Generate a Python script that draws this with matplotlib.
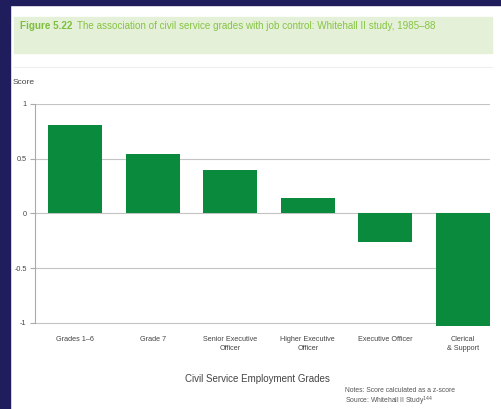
import matplotlib.pyplot as plt
from matplotlib.patches import Rectangle

plt.rcParams['font.family'] = ['Liberation Sans', 'DejaVu Sans']

grades = ["Grades 1–6", "Grade 7", "Senior Executive\nOfficer", "Higher Executive\nOfficer",
          "Executive Officer", "Clerical\n& Support"]
scores = [0.81, 0.54, 0.40, 0.14, -0.26, -1.03]
yticks = [1, 0.5, 0, -0.5, -1]
ytick_labels = ["1", "0.5", "0", "-0.5", "-1"]

W, H = 502, 409
fig = plt.figure(figsize=(W / 100, H / 100), dpi=100)
fig.patch.set_facecolor("white")

# navy frame at left and top
fig.add_artist(Rectangle((0, 0), 10 / W, 1, transform=fig.transFigure, color="#201d5c", zorder=-2))
fig.add_artist(Rectangle((0, 1 - 5 / H), 1, 5 / H, transform=fig.transFigure, color="#201d5c", zorder=-2))

# title box
fig.add_artist(Rectangle((14 / W, 1 - 53 / H), 478 / W, 36 / H, transform=fig.transFigure,
                         color="#e4f0d8", zorder=-2))
head = fig.text(20 / W, 1 - 26 / H, "Figure 5.22", color="#7dbf3c", fontsize=7.1,
                fontweight="bold", va="center", ha="left")
fig.add_artist(plt.Line2D([14 / W, 492 / W], [1 - 67 / H, 1 - 67 / H], transform=fig.transFigure,
                          color="#eeeeee", lw=0.8))
ax = fig.add_axes([35 / W, 1 - 326 / H, 455 / W, 222 / H])
ax.annotate("The association of civil service grades with job control: Whitehall II study, 1985–88",
            xy=(1, 0.5), xycoords=head, xytext=(3, 0), textcoords="offset points",
            color="#86c443", fontsize=7.1, va="center", ha="left", annotation_clip=False)

x = range(len(grades))
ax.bar(x, scores, width=0.7, color="#0a8a3c", zorder=3)
ax.set_xlim(-0.52, 5.35)
ax.set_ylim(-1.03, 1.0)
ax.set_yticks(yticks)
ax.set_yticklabels(ytick_labels)
ax.set_xticks(list(x))
ax.set_xticklabels(grades, fontsize=5.2, color="#444444", linespacing=1.4)
ax.tick_params(axis="x", length=0, pad=7)
ax.tick_params(axis="y", length=3.5, color="#aaaaaa", labelsize=5.2, labelcolor="#444444", pad=2.5)
ax.grid(axis="y", color="#c4c4c4", lw=0.8, zorder=0)
for s in ["top", "right", "bottom"]:
    ax.spines[s].set_visible(False)
ax.spines["left"].set_color("#aaaaaa")
ax.spines["left"].set_bounds(-1, 1)

fig.text(13 / W, 1 - 82 / H, "Score", fontsize=6, color="#444444", va="center", ha="left")
fig.text(257 / W, 1 - 379 / H, "Civil Service Employment Grades", fontsize=7, color="#444444",
         ha="center", va="center")
fig.text(345 / W, 1 - 391 / H, "Notes: Score calculated as a z-score", fontsize=4.9,
         color="#555555", va="center")
fig.text(345 / W, 1 - 401.5 / H, "Source: Whitehall II Study$^{144}$", fontsize=4.9,
         color="#555555", va="center")

fig.savefig("out.png", dpi=100)
